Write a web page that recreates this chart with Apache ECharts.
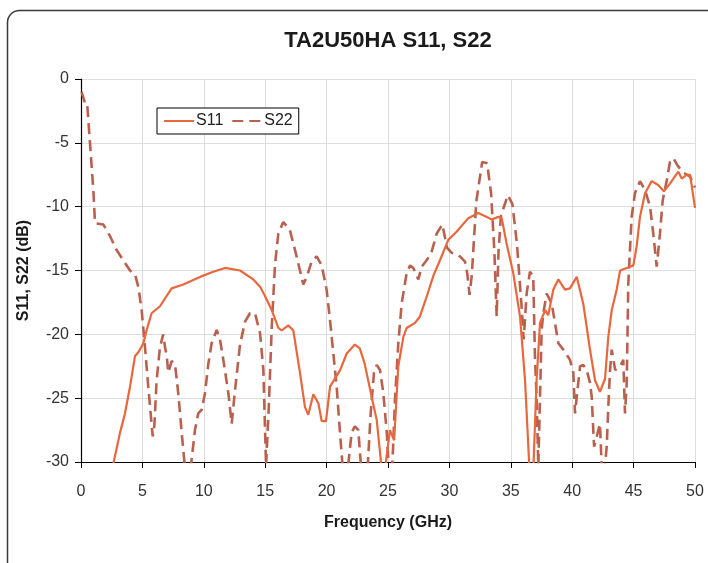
<!DOCTYPE html>
<html>
<head>
<meta charset="utf-8">
<script src="https://cdn.jsdelivr.net/npm/echarts@6/dist/echarts.min.js"></script>
<style>
html,body{margin:0;padding:0;background:#fff;}
#chart{width:708px;height:563px;}
</style>
</head>
<body>
<div id="chart"></div>
<script>
const titleText = 'TA2U50HA S11, S22';
const xAxisTitle = 'Frequency (GHz)';
const yAxisTitle = 'S11, S22 (dB)';
const seriesNames = ['S11', 'S22'];

const s11Freq = [2.55,3.18,3.58,3.99,4.40,4.67,5.08,5.35,5.75,6.43,7.38,8.33,9.69,10.77,11.73,12.95,14.03,14.6,14.98,15.53,16.07,16.34,16.88,17.29,17.83,18.24,18.51,18.92,19.33,19.60,19.95,20.28,21.1,21.64,22.3,22.7,23.1,23.67,24.08,24.45,24.8,25.16,25.5,25.84,26.25,26.52,27.2,27.6,28.2,28.7,29.23,29.91,30.6,31.54,32.35,33.04,33.44,33.98,34.26,34.66,35.2,35.75,36.16,36.5,36.85,37.1,37.38,37.8,38.05,38.46,38.87,39.41,39.82,40.37,40.9,41.45,41.86,42.26,42.67,42.94,43.22,43.62,43.9,44.44,44.98,45.25,45.52,45.93,46.47,47.0,47.46,47.96,48.64,48.92,49.32,49.6,49.86,50];
const s11Db = [-30.5,-27.7,-26.2,-24.1,-21.7,-21.4,-20.7,-19.65,-18.35,-17.8,-16.4,-16.1,-15.5,-15.1,-14.8,-15.0,-15.7,-16.3,-17.0,-18.1,-19.5,-19.7,-19.3,-19.7,-23.0,-25.7,-26.3,-24.7,-25.4,-26.8,-26.8,-24.1,-22.8,-21.5,-20.8,-21.1,-22.3,-24.9,-26.7,-30.2,-30.2,-27.5,-28.3,-22.5,-20.2,-19.5,-19.1,-18.6,-16.9,-15.4,-14.2,-12.6,-11.95,-10.9,-10.5,-10.8,-11.0,-10.8,-10.9,-12.9,-15.2,-18.6,-23.6,-30.2,-30.2,-23.6,-19.1,-18.1,-18.5,-16.5,-15.7,-16.5,-16.4,-15.5,-17.6,-21.2,-23.6,-24.5,-23.5,-20.2,-18.1,-16.5,-15.0,-14.8,-14.6,-13.1,-10.8,-8.95,-8.0,-8.3,-8.8,-8.2,-7.26,-7.8,-7.5,-7.5,-9.2,-10.1];

const s22Freq = [0.05,0.33,0.5,0.73,1.0,1.14,1.82,2.36,2.9,3.45,3.99,4.4,4.67,4.94,5.21,5.48,5.67,5.84,5.97,6.16,6.43,6.7,6.84,6.98,7.11,7.38,7.65,7.92,8.2,8.45,8.95,9.28,9.55,9.83,10.1,10.37,10.64,11.05,11.32,11.59,12.0,12.27,12.54,12.95,13.36,13.76,14.17,14.58,14.85,15.07,15.18,15.3,15.53,15.8,16.07,16.47,17.0,17.43,17.83,18.1,18.38,18.78,19.19,19.6,20.0,20.28,20.55,20.82,21.09,21.3,21.75,22.04,22.3,22.58,22.8,23.35,23.59,23.86,24.08,24.35,24.62,24.9,25.05,25.35,25.57,25.84,26.11,26.52,26.8,27.06,27.47,27.74,28.15,28.56,28.97,29.43,29.8,30.17,30.86,31.27,31.45,31.64,31.82,32.19,32.67,33.07,33.4,33.66,33.85,34.0,34.2,34.76,35.13,35.5,35.87,36.05,36.29,36.56,36.83,36.97,37.1,37.24,37.38,37.51,37.65,37.92,38.33,38.6,38.87,39.28,39.82,40.09,40.23,40.37,40.64,40.9,41.18,41.45,41.59,41.78,42.0,42.26,42.4,42.67,42.81,42.94,43.08,43.22,43.5,43.9,44.16,44.3,44.44,44.57,44.84,45.11,45.52,45.93,46.34,46.6,46.88,47.15,47.37,47.69,47.96,48.23,48.6,49.0,49.6,50];
const s22Db = [-1.0,-1.9,-1.9,-5.0,-8.6,-11.3,-11.4,-12.3,-13.4,-14.2,-15.0,-15.3,-16.3,-18.1,-21.0,-24.1,-26.2,-28.0,-27.2,-23.6,-21.0,-20.0,-21.0,-21.7,-23.0,-22.1,-22.3,-24.6,-27.7,-30.3,-30.3,-27.5,-26.2,-25.9,-24.6,-22.3,-20.7,-19.65,-20.4,-22.0,-24.6,-27.0,-24.4,-20.8,-19.0,-18.35,-18.35,-19.9,-22.8,-30.3,-30.3,-25.5,-19.5,-14.5,-12.1,-11.2,-11.8,-13.4,-15.0,-16.1,-15.5,-14.3,-13.9,-14.6,-16.5,-18.9,-21.5,-24.1,-27.7,-30.3,-30.3,-27.7,-27.2,-27.5,-30.3,-30.3,-26.2,-23.0,-22.4,-22.8,-24.6,-27.7,-30.3,-30.3,-25.1,-20.7,-17.6,-15.2,-14.6,-14.8,-15.7,-14.7,-14.2,-13.5,-12.1,-11.4,-13.2,-13.6,-13.9,-14.3,-15.2,-16.9,-15.4,-9.6,-6.5,-6.6,-9.0,-13.5,-18.6,-13.5,-10.7,-9.1,-9.8,-12.9,-17.7,-20.4,-16.8,-15.1,-15.5,-21.9,-24.9,-30.3,-24.9,-19.65,-18.35,-16.8,-17.6,-19.1,-20.7,-21.2,-22.0,-23.0,-26.2,-24.9,-22.5,-22.4,-22.8,-23.8,-24.9,-28.8,-28.0,-27.0,-30.3,-30.3,-28.8,-25.7,-22.8,-21.2,-22.8,-22.5,-22.0,-26.2,-23.8,-16.0,-10.8,-8.95,-8.0,-8.7,-10.0,-12.1,-14.7,-12.1,-9.5,-8.0,-6.5,-6.2,-6.8,-7.3,-7.65,-8.5];

const xTicks = [0,5,10,15,20,25,30,35,40,45,50];
const yTicks = [0,-5,-10,-15,-20,-25,-30];

function pairs(xs, ys){ return xs.map((x,i)=>[x, ys[i]]); }

const chart = echarts.init(document.getElementById('chart'), null, {renderer:'canvas'});
const font = 'Liberation Sans, Arial, sans-serif';
chart.setOption({
  animation:false,
  backgroundColor:'#fff',
  title:{
    text:titleText, left:388, top:30, textAlign:'center', padding:0,
    textStyle:{fontFamily:font, fontSize:22, fontWeight:'bold', color:'#1a1a1a'}
  },
  graphic:[{
    type:'rect', silent:true, z:-10,
    shape:{x:7.5, y:10.5, width:730, height:600, r:12},
    style:{fill:'none', stroke:'#3a3a3a', lineWidth:1.5}
  }],
  legend:{
    left:157, top:108, orient:'horizontal',
    padding:[5,6,5,6], itemGap:8, itemWidth:30, itemHeight:14,
    borderColor:'#000', borderWidth:1, backgroundColor:'#fff',
    itemStyle:{color:'rgba(0,0,0,0)', borderWidth:0, borderColor:'rgba(0,0,0,0)'},
    textStyle:{fontFamily:font, fontSize:16, color:'#222', padding:[0,0,0,-3]},
    data:seriesNames
  },
  grid:{left:81, right:13, top:79, bottom:101, containLabel:false},
  xAxis:{
    type:'value', min:xTicks[0], max:xTicks[xTicks.length-1], interval:5,
    name:xAxisTitle, nameLocation:'middle', nameGap:53,
    nameTextStyle:{fontFamily:font, fontSize:16, fontWeight:'bold', color:'#1a1a1a'},
    axisLine:{show:true, onZero:false, lineStyle:{color:'#000', width:1.2}},
    axisTick:{show:true, length:6, lineStyle:{color:'#000'}},
    axisLabel:{fontFamily:font, fontSize:16, color:'#333', margin:22},
    splitLine:{show:true, lineStyle:{color:'#dddddd', width:1}}
  },
  yAxis:{
    type:'value', min:-30, max:0, interval:5,
    name:yAxisTitle, nameLocation:'middle', nameGap:49, nameRotate:90,
    nameTextStyle:{fontFamily:font, fontSize:16, fontWeight:'bold', color:'#1a1a1a'},
    axisLine:{show:true, onZero:false, lineStyle:{color:'#000', width:1.2}},
    axisTick:{show:true, length:6, lineStyle:{color:'#000'}},
    axisLabel:{fontFamily:font, fontSize:16, color:'#333', margin:12},
    splitLine:{show:true, lineStyle:{color:'#dddddd', width:1}}
  },
  series:[
    {name:seriesNames[0], type:'line', data:pairs(s11Freq, s11Db), showSymbol:false, symbol:'none', clip:true,
     lineStyle:{color:'#E8673D', width:2.2}, itemStyle:{color:'#E8673D'}, z:3},
    {name:seriesNames[1], type:'line', data:pairs(s22Freq, s22Db), showSymbol:false, symbol:'none', clip:true,
     lineStyle:{color:'#B9614F', width:2.6, type:[11,6]}, itemStyle:{color:'#B9614F'}, z:2}
  ]
});
</script>
</body>
</html>
